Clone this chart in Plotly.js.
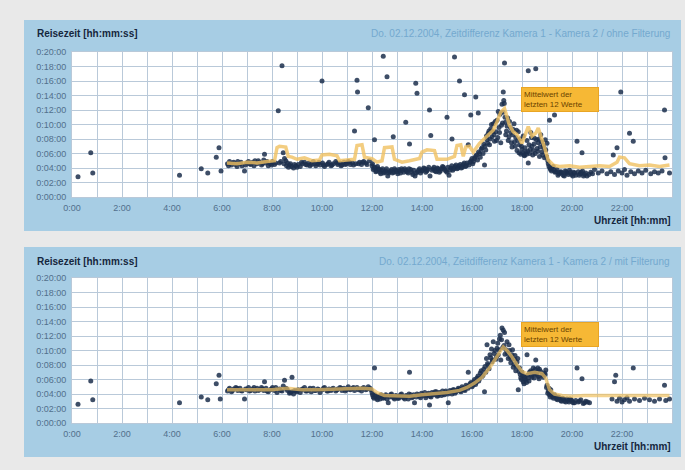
<!DOCTYPE html>
<html>
<head>
<meta charset="utf-8">
<script src="https://cdn.plot.ly/plotly-3.0.1.min.js"></script>
<style>
  html, body { margin: 0; padding: 0; background: #e9e9e9; }
  #chart { width: 685px; height: 470px; }
</style>
</head>
<body>
<div id="chart"></div>
<script>
// ---------- tick labels ----------
const xTickVals = [0, 2, 4, 6, 8, 10, 12, 14, 16, 18, 20, 22];
const xTickText = ['0:00', '2:00', '4:00', '6:00', '8:00', '10:00', '12:00', '14:00', '16:00', '18:00', '20:00', '22:00'];
const yTickVals = [0, 2, 4, 6, 8, 10, 12, 14, 16, 18, 20];
const yTickText = ['0:00:00', '0:02:00', '0:04:00', '0:06:00', '0:08:00', '0:10:00', '0:12:00', '0:14:00', '0:16:00', '0:18:00', '0:20:00'];

// ---------- texts ----------
const yAxisLabel = 'Reisezeit [hh:mm:ss]';
const xAxisLabel = 'Uhrzeit [hh:mm]';
const titleTop = 'Do. 02.12.2004, Zeitdifferenz Kamera 1 - Kamera 2 / ohne Filterung';
const titleBottom = 'Do. 02.12.2004, Zeitdifferenz Kamera 1 - Kamera 2 / mit Filterung';
const noteText = 'Mittelwert der<br>letzten 12 Werte';

// ---------- top panel: raw travel times (hour of day, minutes) ----------
const rawHour = [
  0.24, 0.75, 0.83, 4.3, 5.17, 5.43, 5.77, 5.88, 5.96,
  6.22, 6.3, 6.38, 6.47, 6.55, 6.63, 6.72, 6.8, 6.9, 6.98, 7.06, 7.15, 7.23, 7.32, 7.4, 7.5, 7.58, 7.67, 7.7, 7.76, 7.85, 7.93,
  8.02, 8.1, 8.25, 8.3, 8.4, 8.45, 8.5, 8.55, 8.62, 8.7, 8.78, 8.86, 8.95, 9.05, 9.13, 9.22, 9.3, 9.4, 9.48, 9.57, 9.65, 9.75, 9.83, 9.92,
  10.0, 10.02, 10.1, 10.2, 10.28, 10.36, 10.45, 10.55, 10.63, 10.72, 10.8, 10.88, 10.97, 11.05, 11.13, 11.22, 11.3, 11.35, 11.4, 11.42, 11.5, 11.58, 11.67, 11.75, 11.85, 11.9,
  12.0, 12.05, 12.1, 12.12, 12.18, 12.25, 12.32, 12.38, 12.45, 12.47, 12.55, 12.6, 12.63, 12.7, 12.78, 12.85, 12.87, 12.95,
  13.03, 13.1, 13.18, 13.27, 13.35, 13.36, 13.45, 13.5, 13.55, 13.63, 13.72, 13.75, 13.8, 13.82, 13.9, 13.98,
  14.07, 14.15, 14.23, 14.3, 14.32, 14.35, 14.4, 14.48, 14.57, 14.65, 14.73, 14.82, 14.9,
  15.0, 15.0, 15.08, 15.15, 15.2, 15.23, 15.3, 15.32, 15.4, 15.5, 15.48, 15.57, 15.65, 15.7, 15.73, 15.8, 15.85, 15.88, 15.95, 15.96,
  16.03, 16.1, 16.15, 16.18, 16.25, 16.26, 16.33, 16.4, 16.47, 16.5, 16.55, 16.6, 16.65, 16.7, 16.75, 16.8, 16.85, 16.9, 16.95,
  17.0, 17.03, 17.08, 17.12, 17.15, 17.2, 17.22, 17.25, 17.27, 17.3, 17.32, 17.35, 17.4, 17.45, 17.5, 17.55, 17.6, 17.65, 17.7, 17.75, 17.8, 17.85, 17.9, 17.95,
  18.0, 18.05, 18.1, 18.15, 18.2, 18.25, 18.25, 18.3, 18.35, 18.4, 18.45, 18.5, 18.55, 18.6, 18.65, 18.7, 18.75, 18.8, 18.85, 18.9, 18.95,
  19.0, 19.05, 19.1, 19.12, 19.18, 19.25, 19.3, 19.32, 19.4, 19.48, 19.56, 19.65, 19.73, 19.8, 19.9, 19.98,
  20.07, 20.15, 20.2, 20.25, 20.33, 20.4, 20.42, 20.5, 20.6, 20.75, 20.9,
  21.05, 21.2, 21.4, 21.55, 21.65, 21.7, 21.8, 21.85, 21.95,
  22.0, 22.1, 22.2, 22.3, 22.35, 22.45, 22.5, 22.65, 22.8, 22.95,
  23.15, 23.3, 23.45, 23.6, 23.7, 23.72, 23.9,
  6.26, 6.42, 6.6, 6.76, 6.94, 7.1, 7.28, 7.45, 7.62, 7.8, 7.98, 8.15, 8.35, 8.48, 8.58, 8.66, 8.74, 8.9, 9.0, 9.18, 9.35, 9.52, 9.7, 9.88,
  10.06, 10.24, 10.4, 10.6, 10.76, 10.93, 11.1, 11.26, 11.46, 11.62, 11.8,
  12.02, 12.08, 12.15, 12.22, 12.29, 12.35, 12.42, 12.52, 12.58, 12.67, 12.74, 12.82, 12.9, 12.99, 13.07, 13.14, 13.22, 13.31, 13.4, 13.48,
  13.59, 13.67, 13.77, 13.86, 13.94, 14.02, 14.11, 14.19, 14.27, 14.44, 14.52, 14.61, 14.69, 14.78, 14.86, 14.95, 15.04, 15.12, 15.19, 15.27,
  15.36, 15.44, 15.53, 15.61, 15.69, 15.77, 15.92, 16.0, 16.06, 16.14, 16.22, 16.3, 16.37, 16.44, 16.52, 16.58, 16.63, 16.68, 16.73, 16.78,
  16.83, 16.88, 16.93, 16.98, 17.05, 17.1, 17.18, 17.24, 17.29, 17.34, 17.38, 17.43, 17.48, 17.53, 17.58, 17.63, 17.68, 17.73, 17.78, 17.83,
  17.88, 17.93, 17.98, 18.03, 18.08, 18.12, 18.18, 18.23, 18.28, 18.33, 18.38, 18.43, 18.48, 18.53, 18.58, 18.63, 18.68, 18.73, 18.78, 18.83,
  18.88, 18.93, 18.98, 19.03, 19.08, 19.14, 19.2, 19.28, 19.36, 19.44, 19.52, 19.6, 19.69, 19.77, 19.85, 19.94, 20.03, 20.11, 20.29, 20.37,
  20.46, 20.55, 20.68, 20.82
];
const rawMin = [
  2.8, 6.1, 3.3, 3.0, 3.9, 3.3, 5.5, 6.8, 3.6,
  4.6, 4.9, 4.4, 4.8, 4.5, 4.9, 4.6, 4.3, 3.6, 4.7, 4.9, 4.5, 4.8, 5.0, 4.6, 4.8, 4.4, 5.1, 5.9, 4.7, 4.3, 4.6,
  4.9, 4.5, 11.9, 4.7, 18.1, 6.1, 5.3, 5.0, 4.7, 4.4, 4.2, 4.0, 4.3, 4.5, 4.2, 4.6, 4.8, 4.4, 4.7, 4.5, 4.9, 4.3, 4.6, 4.4,
  16.0, 4.7, 4.2, 4.5, 4.8, 4.3, 4.6, 4.9, 4.5, 4.7, 4.4, 4.8, 4.6, 4.9, 4.5, 4.7, 9.1, 4.6, 16.1, 14.5, 4.8, 4.5, 4.9, 4.7, 12.3, 5.0,
  4.3, 3.8, 7.9, 4.1, 3.6, 3.9, 3.4, 3.7, 19.4, 3.3, 3.6, 16.6, 2.9, 3.5, 3.8, 8.3, 3.4, 3.7,
  3.2, 3.6, 3.9, 3.4, 10.3, 3.7, 3.3, 7.3, 3.8, 3.1, 2.9, 15.7, 14.3, 3.5, 3.9, 3.6,
  4.0, 3.4, 3.8, 12.0, 2.9, 8.5, 3.7, 4.1, 3.5, 3.9, 3.6, 4.2, 3.8,
  11.0, 3.4, 3.0, 4.0, 8.0, 3.7, 19.3, 4.2, 3.9, 16.0, 4.3, 4.0, 4.5, 14.1, 4.2, 4.7, 7.2, 4.4, 11.3, 5.0,
  4.6, 5.3, 13.8, 5.8, 11.6, 6.2, 5.5, 6.8, 7.3, 4.4, 6.5, 7.9, 8.8, 7.2, 9.4, 8.3, 10.1, 7.7, 9.0,
  10.6, 8.2, 9.6, 11.4, 7.5, 12.8, 10.2, 14.5, 13.3, 18.5, 11.0, 8.6, 9.8, 7.8, 10.4, 8.9, 6.9, 9.3, 7.6, 8.2, 6.4, 9.0, 7.2, 5.9,
  6.6, 8.4, 5.7, 6.2, 7.8, 17.4, 4.7, 6.0, 8.9, 7.0, 6.4, 8.1, 17.7, 6.7, 7.5, 5.6, 8.6, 6.2, 7.1, 5.4, 6.5,
  7.4, 4.6, 10.6, 4.0, 3.6, 4.2, 11.3, 3.4, 3.8, 3.2, 3.5, 3.0, 3.6, 3.3, 3.7, 3.1,
  3.4, 3.0, 7.7, 3.5, 3.2, 6.1, 3.6, 3.1, 2.9, 3.4, 3.8,
  3.3, 3.6, 3.2, 3.5, 5.8, 3.1, 6.8, 3.6, 14.5,
  3.3, 3.8, 3.0, 8.8, 3.5, 7.7, 3.2, 3.6, 3.3, 3.7,
  3.2, 3.5, 3.3, 3.6, 12.0, 5.4, 3.3,
  4.3, 4.7, 4.2, 4.8, 4.4, 4.6, 4.3, 5.0, 4.6, 4.9, 4.4, 4.7, 4.9, 4.6, 4.3, 4.1, 4.6, 4.5, 4.1, 4.8, 4.5, 4.3, 4.6, 4.8,
  4.4, 4.6, 4.4, 4.7, 4.3, 4.5, 4.8, 4.4, 4.6, 4.8, 4.5,
  4.6, 4.0, 3.5, 4.2, 3.8, 3.2, 3.9, 3.4, 3.9, 3.3, 3.6, 3.3, 3.9, 3.5, 3.8, 3.3, 3.7, 3.9, 3.5, 3.9,
  3.4, 3.7, 3.3, 3.7, 3.3, 3.7, 3.9, 3.6, 4.1, 3.9, 3.6, 4.0, 3.4, 3.9, 4.1, 3.6, 4.1, 3.7, 4.3, 3.9,
  4.4, 4.0, 4.5, 4.1, 4.7, 4.3, 4.8, 5.3, 4.9, 5.6, 5.1, 6.0, 6.6, 6.0, 7.0, 8.4, 7.4, 9.1, 8.0, 10.0,
  9.0, 8.6, 10.4, 7.8, 11.8, 8.9, 9.9, 11.7, 12.9, 10.3, 9.1, 10.9, 8.3, 9.6, 7.5, 8.6, 10.1, 7.0, 9.2, 7.8,
  6.1, 8.0, 7.0, 6.1, 5.8, 6.8, 5.9, 6.3, 7.2, 6.6, 8.2, 5.8, 7.3, 6.0, 7.9, 6.3, 8.0, 6.9, 7.6, 5.8,
  6.8, 7.9, 5.6, 5.0, 4.2, 3.8, 4.0, 3.7, 3.5, 3.0, 3.4, 3.3, 2.9, 3.5, 3.1, 3.4, 2.9, 3.3, 3.0, 3.4,
  2.9, 3.3, 3.1, 3.2
];

// ---------- top panel: moving average of last 12 values ----------
const rawAvgHour = [
  6.2, 6.6, 7.0, 7.4, 7.8, 8.1, 8.2, 8.3, 8.55, 8.65, 8.8, 9.0, 9.3, 9.6, 9.9, 10.0, 10.3, 10.6, 10.7,
  11.0, 11.3, 11.4, 11.6, 11.7, 12.0, 12.2, 12.4, 12.5, 12.8, 12.9, 13.2, 13.5, 13.9, 14.0, 14.2, 14.5, 14.6,
  15.0, 15.3, 15.4, 15.55, 15.65, 15.75, 15.9, 16.05, 16.3, 16.45, 16.7, 16.85, 17.0, 17.15, 17.3, 17.4, 17.5, 17.65, 17.8,
  18.0, 18.15, 18.25, 18.4, 18.55, 18.65, 18.75, 18.85, 19.05, 19.25, 19.5, 19.9, 20.3, 20.7, 21.1, 21.5, 21.8, 21.9,
  22.1, 22.3, 22.7, 23.1, 23.5, 23.9
];
const rawAvgMin = [
  4.7, 4.6, 4.8, 4.7, 4.9, 5.0, 6.8, 7.0, 6.9, 5.6, 5.5, 5.2, 5.4, 5.0, 5.1, 5.8, 5.9, 5.7, 5.0,
  5.1, 5.2, 7.1, 7.2, 5.5, 5.3, 4.8, 5.0, 6.8, 6.9, 5.2, 4.8, 5.0, 5.3, 6.2, 6.5, 6.4, 5.2,
  5.2, 5.6, 7.1, 7.2, 5.6, 6.9, 7.0, 6.2, 7.4, 7.9, 8.6, 9.2, 10.4, 11.7, 12.2, 10.9, 9.9, 9.0, 8.6,
  7.4, 8.6, 9.7, 8.4, 8.8, 9.5, 8.6, 7.4, 5.1, 4.4, 4.2, 4.3, 4.1, 4.2, 4.3, 4.2, 4.8, 5.5,
  5.4, 4.6, 4.3, 4.4, 4.2, 4.4
];

// ---------- bottom panel: filtered travel times ----------
const filtHour = [
  0.24, 0.75, 0.83, 4.3, 5.17, 5.43, 5.77, 5.88, 5.93,
  6.22, 6.3, 6.38, 6.47, 6.55, 6.63, 6.72, 6.8, 6.9, 6.98, 7.06, 7.15, 7.23, 7.32, 7.4, 7.5, 7.58, 7.67, 7.7, 7.76, 7.85, 7.93,
  8.02, 8.1, 8.2, 8.3, 8.4, 8.5, 8.55, 8.62, 8.7, 8.8, 8.78, 8.86, 8.95, 9.05, 9.13, 9.22, 9.3, 9.4, 9.48, 9.57, 9.65, 9.75, 9.83, 9.92,
  10.02, 10.1, 10.2, 10.28, 10.36, 10.45, 10.55, 10.63, 10.72, 10.8, 10.88, 10.97, 11.05, 11.13, 11.22, 11.3, 11.4, 11.5, 11.58, 11.67, 11.75, 11.85, 11.92,
  12.0, 12.05, 12.1, 12.12, 12.18, 12.25, 12.32, 12.4, 12.48, 12.55, 12.65, 12.7, 12.78, 12.87, 12.95,
  13.03, 13.1, 13.18, 13.27, 13.36, 13.45, 13.5, 13.55, 13.63, 13.7, 13.8, 13.9, 13.98,
  14.07, 14.15, 14.23, 14.3, 14.32, 14.4, 14.48, 14.57, 14.65, 14.73, 14.82, 14.9,
  15.0, 15.05, 15.12, 15.2, 15.28, 15.36, 15.45, 15.52, 15.6, 15.68, 15.76, 15.85, 15.84, 15.92,
  16.0, 16.07, 16.14, 16.2, 16.27, 16.33, 16.4, 16.47, 16.5, 16.55, 16.6, 16.62, 16.68, 16.75, 16.8, 16.85, 16.88, 16.95,
  17.0, 17.05, 17.1, 17.15, 17.2, 17.25, 17.28, 17.32, 17.4, 17.45, 17.5, 17.55, 17.6, 17.65, 17.7, 17.75, 17.8, 17.85, 17.9, 17.95,
  18.0, 18.05, 18.1, 18.15, 18.2, 18.22, 18.28, 18.35, 18.4, 18.45, 18.5, 18.55, 18.6, 18.65, 18.7, 18.8, 18.9, 18.95,
  19.0, 19.05, 19.1, 19.15, 19.22, 19.3, 19.38, 19.45, 19.55, 19.62, 19.7, 19.8, 19.88, 19.97,
  20.05, 20.15, 20.2, 20.25, 20.35, 20.4, 20.45, 20.55, 20.7,
  21.6, 21.7, 21.75, 21.8, 21.9, 22.0, 22.1, 22.2, 22.3, 22.45, 22.5, 22.7, 22.9,
  23.1, 23.3, 23.5, 23.7, 23.75, 23.9,
  6.26, 6.42, 6.6, 6.76, 6.94, 7.1, 7.28, 7.45, 7.62, 7.8, 7.98, 8.15, 8.35, 8.45, 8.6, 8.74, 8.9, 9.0, 9.18, 9.35, 9.52, 9.7, 9.88,
  10.06, 10.24, 10.4, 10.6, 10.76, 10.93, 11.1, 11.26, 11.46, 11.62, 11.8, 11.96,
  12.02, 12.08, 12.15, 12.22, 12.29, 12.36, 12.44, 12.52, 12.6, 12.74, 12.82, 12.9, 12.99, 13.07, 13.14, 13.22, 13.31, 13.4, 13.48, 13.59,
  13.67, 13.77, 13.86, 13.94, 14.02, 14.11, 14.19, 14.27, 14.36, 14.44, 14.52, 14.61, 14.69, 14.78, 14.86, 14.95, 15.04, 15.16, 15.24, 15.32,
  15.4, 15.49, 15.56, 15.64, 15.72, 15.8, 15.88, 15.96, 16.04, 16.1, 16.17, 16.24, 16.3, 16.37, 16.44, 16.52, 16.58, 16.65, 16.72, 16.78,
  16.82, 16.92, 16.98, 17.03, 17.08, 17.13, 17.18, 17.23, 17.3, 17.36, 17.42, 17.48, 17.52, 17.58, 17.62, 17.68, 17.72, 17.78, 17.83, 17.88,
  17.93, 17.98, 18.03, 18.08, 18.12, 18.18, 18.25, 18.3, 18.38, 18.43, 18.48, 18.53, 18.58, 18.63, 18.68, 18.75, 18.85, 18.92, 18.98, 19.03,
  19.08, 19.13, 19.19, 19.26, 19.34, 19.42, 19.5, 19.58, 19.66, 19.75, 19.84, 19.92, 20.0, 20.1, 20.3, 20.5, 20.62
];
const filtMin = [
  2.6, 5.8, 3.2, 2.8, 3.6, 3.2, 5.4, 6.6, 3.3,
  4.4, 4.8, 4.3, 4.7, 4.9, 4.5, 4.8, 4.4, 3.3, 4.6, 4.9, 4.5, 4.7, 4.4, 4.8, 4.6, 4.9, 4.5, 5.7, 4.8, 4.3, 4.6,
  4.9, 4.5, 4.2, 4.7, 4.4, 5.9, 4.8, 4.5, 4.1, 6.3, 4.3, 4.0, 4.4, 4.6, 4.2, 4.7, 4.9, 4.4, 4.6, 4.3, 4.8, 4.5, 4.7, 4.2,
  4.6, 4.9, 4.4, 4.7, 4.5, 4.8, 4.4, 4.7, 4.9, 4.5, 4.8, 4.6, 5.0, 4.6, 4.8, 4.5, 4.9, 4.7, 4.4, 4.9, 4.6, 5.0, 4.8,
  4.2, 3.6, 7.6, 3.9, 3.4, 3.7, 3.3, 3.8, 3.5, 3.9, 2.8, 3.6, 4.0, 3.5, 3.8,
  3.4, 3.7, 4.0, 3.5, 3.8, 3.3, 7.0, 3.9, 3.6, 2.8, 4.0, 3.7, 4.1,
  3.8, 3.5, 4.0, 2.5, 3.7, 4.2, 3.9, 4.3, 3.8, 4.1, 4.4, 3.9,
  4.2, 2.8, 4.5, 4.0, 4.6, 4.3, 4.8, 4.4, 5.0, 4.6, 5.2, 7.0, 4.8, 5.4,
  5.0, 5.7, 5.3, 6.2, 5.8, 6.9, 6.4, 7.4, 4.3, 7.0, 10.8, 8.2, 7.5, 9.0, 8.4, 11.2, 9.6, 8.8,
  10.3, 9.4, 11.6, 8.7, 13.1, 12.8, 10.7, 9.5, 11.2, 8.9, 10.0, 8.3, 9.4, 7.7, 8.8, 7.2, 8.4, 4.6, 7.6, 6.2,
  7.0, 5.7, 6.4, 5.9, 9.4, 6.6, 5.8, 7.2, 6.3, 7.6, 6.8, 8.7, 7.0, 6.4, 7.4, 6.6, 6.9, 7.3,
  5.2, 4.4, 3.9, 4.6, 3.6, 3.9, 3.3, 3.6, 3.1, 3.4, 3.0, 3.3, 2.9, 3.2,
  2.8, 3.1, 7.6, 2.9, 3.2, 6.1, 2.7, 3.0, 2.8,
  3.3, 5.7, 6.6, 3.0, 3.4, 2.9, 3.2, 3.5, 3.0, 7.6, 3.3, 3.1, 3.4,
  3.2, 3.0, 3.3, 5.2, 3.1, 3.3,
  4.6, 4.5, 4.8, 4.5, 4.7, 4.4, 4.9, 4.5, 4.7, 4.4, 4.7, 4.9, 4.5, 5.1, 4.7, 4.2, 4.5, 4.3, 4.6, 4.4, 4.8, 4.5, 4.6,
  4.8, 4.4, 4.7, 4.6, 4.8, 4.4, 4.7, 4.9, 4.6, 4.8, 4.7, 4.6,
  3.9, 3.4, 3.7, 3.2, 3.6, 3.9, 3.4, 3.7, 3.3, 3.9, 3.6, 3.3, 3.7, 3.4, 3.9, 3.6, 3.3, 3.7, 4.0, 3.5,
  3.9, 3.6, 3.9, 3.5, 3.9, 4.2, 3.8, 4.1, 3.6, 4.0, 4.3, 3.7, 4.2, 3.8, 4.0, 4.4, 4.0, 4.3, 4.6, 4.1,
  4.5, 4.7, 4.3, 4.8, 4.5, 5.0, 5.1, 5.6, 5.2, 6.0, 5.6, 6.5, 6.1, 7.2, 6.6, 7.8, 8.9, 8.0, 9.4, 10.2,
  8.7, 10.0, 9.1, 11.0, 10.1, 12.1, 11.5, 10.4, 12.5, 10.1, 9.6, 10.8, 9.1, 8.8, 10.1, 8.1, 9.3, 7.8, 8.9, 7.1,
  6.7, 6.0, 6.6, 5.4, 6.1, 5.6, 6.2, 7.0, 6.6, 7.1, 6.2, 7.4, 6.7, 7.6, 6.1, 7.1, 6.3, 6.7, 4.9, 4.1,
  4.8, 3.6, 4.0, 3.4, 3.7, 3.2, 3.5, 3.0, 3.3, 2.9, 3.1, 3.3, 3.0, 2.8, 3.0, 2.8, 2.9
];

// ---------- bottom panel: moving average of last 12 values ----------
const filtAvgHour = [
  6.2, 6.8, 7.4, 8.0, 8.6, 9.2, 9.8, 10.4, 11.0, 11.6, 12.0, 12.2, 12.5, 13.0, 13.5, 14.0, 14.5, 15.0, 15.5, 15.8,
  16.1, 16.4, 16.7, 16.9, 17.1, 17.25, 17.4, 17.6, 17.8, 18.0, 18.2, 18.5, 18.8, 18.95, 19.1, 19.3, 19.6,
  20.0, 20.5, 21.0, 21.5, 22.0, 22.5, 23.0, 23.5, 23.9
];
const filtAvgMin = [
  4.6, 4.6, 4.7, 4.6, 4.8, 4.6, 4.6, 4.7, 4.7, 4.8, 4.7, 4.2, 3.8, 3.7, 3.7, 3.9, 4.0, 4.2, 4.5, 4.9,
  5.5, 6.3, 7.6, 8.6, 9.8, 10.5, 10.0, 9.1, 8.0, 7.1, 6.8, 7.0, 6.8, 6.2, 4.6, 4.0, 3.8,
  3.7, 3.8, 3.8, 3.8, 3.9, 3.8, 3.8, 3.9, 3.8
];

// ---------- styling ----------
const W = 685, H = 470;
const px = v => v / W;
const py = v => 1 - v / H;

const pointStyle = { color: '#1c2f4c', size: 5, opacity: 0.85 };
const avgStyle = { color: '#f0c060', width: 3.5 };

const traces = [
  { x: rawHour, y: rawMin, type: 'scatter', mode: 'markers', marker: pointStyle, xaxis: 'x', yaxis: 'y', hoverinfo: 'skip' },
  { x: rawAvgHour, y: rawAvgMin, type: 'scatter', mode: 'lines', line: avgStyle, opacity: 0.8, xaxis: 'x', yaxis: 'y', hoverinfo: 'skip' },
  { x: filtHour, y: filtMin, type: 'scatter', mode: 'markers', marker: pointStyle, xaxis: 'x2', yaxis: 'y2', hoverinfo: 'skip' },
  { x: filtAvgHour, y: filtAvgMin, type: 'scatter', mode: 'lines', line: avgStyle, opacity: 0.7, xaxis: 'x2', yaxis: 'y2', hoverinfo: 'skip' }
];

const tickFont = { family: 'Liberation Sans, Arial, sans-serif', size: 9, color: '#52708c' };
const gridColor = '#b9c9d9';

function xAxis(anchor) {
  return {
    domain: [px(72), px(672)], range: [0, 24], anchor: anchor,
    tickvals: xTickVals, ticktext: xTickText, tickfont: tickFont,
    showgrid: true, gridcolor: gridColor, gridwidth: 1,
    minor: { dtick: 1, tick0: 0, showgrid: true, gridcolor: gridColor, gridwidth: 1, ticks: '' },
    zeroline: false, showline: true, linecolor: gridColor, mirror: true, ticks: '', ticklabelstandoff: 2,
    fixedrange: true
  };
}
function yAxis(anchor, top, bottom) {
  return {
    domain: [py(bottom), py(top)], range: [0, 20], anchor: anchor,
    tickvals: yTickVals, ticktext: yTickText, tickfont: tickFont,
    showgrid: true, gridcolor: gridColor, gridwidth: 1,
    zeroline: false, showline: true, linecolor: gridColor, mirror: true, ticks: '', ticklabelstandoff: 3,
    fixedrange: true
  };
}

const headFont = { family: 'Liberation Sans, Arial, sans-serif', size: 10, color: '#15263d' };
const titleFont = { family: 'Liberation Sans, Arial, sans-serif', size: 10, color: '#74a9cf' };
const noteFont = { family: 'Liberation Sans, Arial, sans-serif', size: 8, color: '#6a4300' };

function panelAnnotations(headY, xlabelY, noteTop, title) {
  return [
    { xref: 'paper', yref: 'paper', x: px(35), y: py(headY), xanchor: 'left', yanchor: 'middle',
      text: '<b>' + yAxisLabel + '</b>', showarrow: false, font: headFont },
    { xref: 'paper', yref: 'paper', x: px(672), y: py(headY), xanchor: 'right', yanchor: 'middle',
      text: title, showarrow: false, font: titleFont },
    { xref: 'paper', yref: 'paper', x: px(673), y: py(xlabelY), xanchor: 'right', yanchor: 'middle',
      text: '<b>' + xAxisLabel + '</b>', showarrow: false, font: headFont },
    { xref: 'paper', yref: 'paper', x: px(521), y: py(noteTop), xanchor: 'left', yanchor: 'top',
      text: noteText, showarrow: false, font: noteFont, align: 'left',
      bgcolor: '#f6b835', bordercolor: '#e9a524', borderwidth: 1, borderpad: 2, width: 72, height: 19 }
  ];
}

const frameColor = '#a7cde4';
const layout = {
  width: W, height: H,
  margin: { l: 0, r: 0, t: 0, b: 0 },
  paper_bgcolor: '#e9e9e9', plot_bgcolor: '#ffffff',
  showlegend: false,
  xaxis: xAxis('y'), yaxis: yAxis('x', 52, 197),
  xaxis2: xAxis('y2'), yaxis2: yAxis('x2', 278, 423),
  shapes: [
    { type: 'rect', xref: 'paper', yref: 'paper', x0: px(24), x1: px(681), y0: py(231), y1: py(20), fillcolor: frameColor, line: { width: 0 }, layer: 'below' },
    { type: 'rect', xref: 'paper', yref: 'paper', x0: px(24), x1: px(681), y0: py(457), y1: py(247), fillcolor: frameColor, line: { width: 0 }, layer: 'below' },
    { type: 'rect', xref: 'paper', yref: 'paper', x0: px(72), x1: px(672), y0: py(197), y1: py(52), fillcolor: '#ffffff', line: { width: 0 }, layer: 'below' },
    { type: 'rect', xref: 'paper', yref: 'paper', x0: px(72), x1: px(672), y0: py(423), y1: py(278), fillcolor: '#ffffff', line: { width: 0 }, layer: 'below' }
  ],
  annotations: [].concat(
    panelAnnotations(33, 220, 87, titleTop),
    panelAnnotations(261, 446, 322, titleBottom)
  )
};

Plotly.newPlot('chart', traces, layout, { staticPlot: true, displayModeBar: false });
</script>
</body>
</html>
